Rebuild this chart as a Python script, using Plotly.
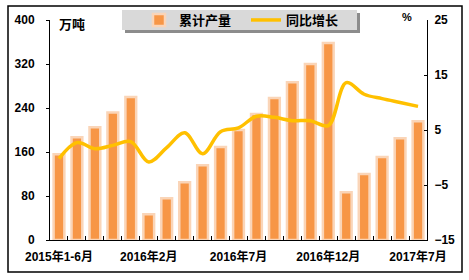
import plotly.graph_objects as go

categories = ["2015年1-6月", "2015年7月", "2015年8月", "2015年9月", "2015年10月",
              "2016年2月", "2016年3月", "2016年4月", "2016年5月", "2016年6月",
              "2016年7月", "2016年8月", "2016年9月", "2016年10月", "2016年11月",
              "2016年12月", "2017年3月", "2017年4月", "2017年5月", "2017年6月",
              "2017年7月"]
output = [156, 187, 205, 232, 260, 47, 76, 105, 136, 169, 200, 229, 258, 287, 320,
          358, 87, 120, 151, 185, 216]
growth = [-0.2, 2.7, 1.6, 2.2, 2.9, -0.8, 1.8, 4.5, 0.7, 4.7, 5.4, 7.5, 7.3, 6.7, 6.7,
          5.8, 13.6, 11.5, 10.7, 10.0, 9.3]
shown_labels = {0, 5, 10, 15, 20}
ticktext = [c if i in shown_labels else "" for i, c in enumerate(categories)]
left_ticks = [0, 80, 160, 240, 320, 400]
right_ticks = [-15, -5, 5, 15, 25]

FONT = "Liberation Sans, Arial, Noto Sans CJK SC"

fig = go.Figure()
fig.add_trace(go.Bar(
    x=categories, y=output, name="累计产量", width=0.6, legend="legend",
    marker=dict(color="#F79646", line=dict(color="#FAD5B8", width=2.5)),
))
fig.add_trace(go.Scatter(
    x=categories, y=growth, name="同比增长", yaxis="y2", mode="lines", legend="legend2",
    line=dict(color="#FFC000", width=3.5, shape="spline", smoothing=1),
))

W, H = 469, 280
L, R, T, B = 50, 42, 20, 40
pw, ph = W - L - R, H - T - B

def px(x):
    return (x - L) / pw

def py(y):
    return (H - B - y) / ph

legend_common = dict(orientation="h", y=py(20), xanchor="left", yanchor="middle",
                     bgcolor="rgba(0,0,0,0)", font=dict(size=13, weight="bold"),
                     itemwidth=30)

fig.update_layout(
    width=W, height=H,
    margin=dict(l=L, r=R, t=T, b=B, autoexpand=False),
    paper_bgcolor="white", plot_bgcolor="rgba(0,0,0,0)",
    font=dict(family=FONT, size=12, color="black"),
    showlegend=True,
    legend=dict(x=px(139), **legend_common),
    legend2=dict(x=px(246), **legend_common),
    bargap=0.4,
    xaxis=dict(type="category", categoryorder="array", categoryarray=categories,
               tickvals=categories, ticktext=ticktext, tickson="boundaries",
               ticks="inside", ticklen=4, tickcolor="black",
               showline=True, linecolor="black", linewidth=1,
               showgrid=False, tickangle=0, ticklabelstandoff=6,
               tickfont=dict(size=12, weight="bold"), range=[-0.5, 20.5]),
    yaxis=dict(range=[0, 400], tickvals=left_ticks, ticks="outside", ticklen=3,
               tickcolor="black", showline=True, linecolor="black", linewidth=1,
               showgrid=False, zeroline=False, ticklabelstandoff=9,
               tickfont=dict(size=12, weight="bold")),
    yaxis2=dict(range=[-15, 25], tickvals=right_ticks, overlaying="y", side="right",
                ticks="inside", ticklen=3, tickcolor="black",
                showline=True, linecolor="black", linewidth=1,
                showgrid=False, zeroline=False, ticklabelstandoff=4,
                tickfont=dict(size=12, weight="bold")),
    shapes=[
        dict(type="rect", xref="paper", yref="paper", layer="below",
             x0=px(125), x1=px(360), y0=py(33), y1=py(13),
             line=dict(width=0), fillcolor="#8C8C8C"),
        dict(type="rect", xref="paper", yref="paper", layer="below",
             x0=px(122), x1=px(357), y0=py(30), y1=py(10),
             line=dict(width=0), fillcolor="#D9D9D9"),
        dict(type="rect", xref="paper", yref="paper", layer="above",
             x0=px(8), x1=px(462), y0=py(272), y1=py(6),
             line=dict(color="black", width=1.5), fillcolor="rgba(0,0,0,0)"),
    ],
    annotations=[
        dict(text="万吨", xref="paper", yref="paper", x=px(57), y=py(25),
             xanchor="left", yanchor="middle", showarrow=False,
             font=dict(size=13, weight="bold")),
        dict(text="%", xref="paper", yref="paper", x=px(407), y=py(17),
             xanchor="center", yanchor="middle", showarrow=False,
             font=dict(size=11, weight="bold")),
    ],
)

fig.write_html("out.html")
